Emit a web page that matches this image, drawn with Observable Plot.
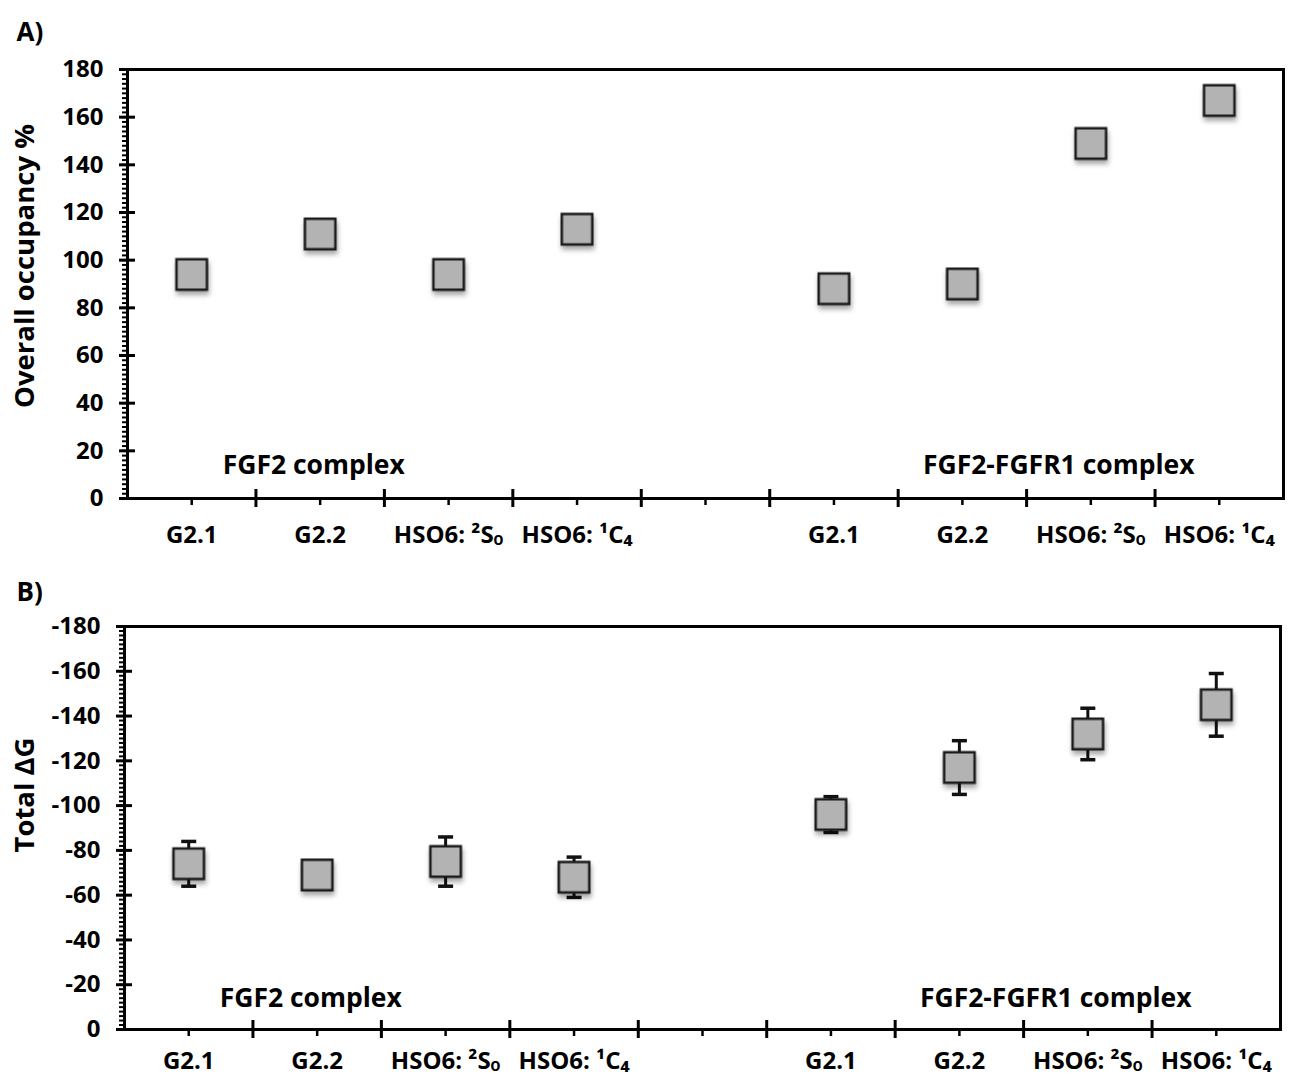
<!DOCTYPE html>
<html>
<head>
<meta charset="utf-8">
<script src="https://cdn.jsdelivr.net/npm/d3@7"></script>
<script src="https://cdn.jsdelivr.net/npm/@observablehq/plot@0.6"></script>
<style>
  html, body { margin: 0; padding: 0; background: #fff; }
  #chart svg { display: block; }
</style>
</head>
<body>
<div id="chart"></div>
<script>
// ---- data ----
const categories = ["G2.1", "G2.2", "HSO6: ²Sₒ", "HSO6: ¹C₄"];
const groups = ["FGF2 complex", "FGF2-FGFR1 complex"];

// Panel A: overall occupancy %
const occupancyFGF2 = [94, 111, 94, 113];
const occupancyFGFR1 = [88, 90, 149, 167];

// Panel B: total ΔG with error
const dGFGF2 = [-74, -69, -75, -68];
const dGErrFGF2 = [10, 0, 11, 9];
const dGFGFR1 = [-96, -117, -132, -145];
const dGErrFGFR1 = [8, 12, 11.5, 14];

const yTicksA = [0, 20, 40, 60, 80, 100, 120, 140, 160, 180];
const yTicksB = [0, -20, -40, -60, -80, -100, -120, -140, -160, -180];

// annotation positions (data units)
const annotX = [0.95, 6.75];
const annotYA = [14, 14];
const annotYB = [-14, -14];

// ---- build ----
const nSlots = categories.length * 2 + 1;
function rows(v1, v2, e1, e2) {
  const out = [];
  [v1, v2].forEach((vals, g) => {
    const errs = g === 0 ? e1 : e2;
    vals.forEach((v, i) => {
      const e = errs ? errs[i] : 0;
      out.push({slot: g * (categories.length + 1) + i, value: v, low: v + e, high: v - e, err: e, cat: categories[i], group: groups[g]});
    });
  });
  return out;
}
const slotLabel = s => {
  const i = s % (categories.length + 1);
  return i < categories.length ? categories[i] : "";
};
const centers = d3.range(0, nSlots);
const labelSlots = centers.filter(s => slotLabel(s) !== "");
const bounds = d3.range(0.5, nSlots - 1, 1);

const capSymbol = {draw(ctx) { ctx.moveTo(-7.5, 0); ctx.lineTo(7.5, 0); }};

function panel({data, domain, ticks, minorStep, ylabel, ylabelDy, letter, annotY, xPad, height, mt, mb, ml, mr}) {
  const [d0, d1] = domain;
  const minor = d3.range(Math.min(d0, d1), Math.max(d0, d1) + 0.001, minorStep);
  const errData = data.filter(d => d.err > 0);
  const annot = groups.map((g, i) => ({text: g, x: annotX[i], y: annotY[i]}));
  const svg = Plot.plot({
    width: 1290,
    height,
    marginTop: mt, marginBottom: mb, marginLeft: ml, marginRight: mr,
    style: {fontFamily: "'Open Sans', sans-serif", fontWeight: "bold", fontSize: "24px", color: "#000", background: "#fff"},
    x: {domain: [-0.5, nSlots - 0.5]},
    y: {domain},
    marks: [
      // y axis
      Plot.axisY({ticks, tickSize: 8, tickPadding: 16, tickFormat: d => String(d), fontSize: 24, strokeWidth: 3, label: null}),
      Plot.axisY({ticks, tickSize: -8, text: null, strokeWidth: 3, label: null}),
      Plot.axisY({ticks: minor, tickSize: 5, text: null, strokeWidth: 2, label: null}),
      // x axis
      Plot.axisX({ticks: labelSlots, tickSize: 0, tickPadding: xPad, tickFormat: slotLabel, fontSize: 24, label: null}),
      Plot.axisX({ticks: centers, tickSize: 7, text: null, strokeWidth: 2.5, label: null}),
      Plot.axisX({ticks: bounds, tickSize: 9, text: null, strokeWidth: 3, label: null}),
      Plot.axisX({ticks: bounds, tickSize: -9, text: null, strokeWidth: 3, label: null}),
      Plot.frame({stroke: "#000", strokeWidth: 3}),
      // annotations
      Plot.text(annot, {x: "x", y: "y", text: "text", fontSize: 26.5, fill: "#000"}),
      Plot.text([ylabel], {frameAnchor: "left", dx: -ml + 25, dy: ylabelDy, rotate: -90, fontSize: 27.5, fill: "#000", textAnchor: "middle"}),
      Plot.text([letter], {frameAnchor: "top-left", dx: -ml + 16, dy: -mt + 22, fontSize: 26, fill: "#000", textAnchor: "start"}),
      // error bars
      Plot.ruleX(errData, {x: "slot", y1: "low", y2: "high", stroke: "#111", strokeWidth: 3}),
      Plot.dot(errData, {x: "slot", y: "low", symbol: capSymbol, r: 5, stroke: "#111", strokeWidth: 3.5, fill: "none"}),
      Plot.dot(errData, {x: "slot", y: "high", symbol: capSymbol, r: 5, stroke: "#111", strokeWidth: 3.5, fill: "none"}),
      // squares
      Plot.dot(data, {x: "slot", y: "value", symbol: "square", r: 17.2, fill: "#b3b3b3", stroke: "#1a1a1a", strokeWidth: 2.5})
    ]
  });
  const dots = svg.querySelectorAll('g[aria-label="dot"]');
  if (dots.length) dots[dots.length - 1].style.filter = "drop-shadow(1px 4px 2.5px rgba(0,0,0,0.35))";
  return svg;
}

const chart = document.getElementById("chart");
chart.appendChild(panel({
  data: rows(occupancyFGF2, occupancyFGFR1),
  domain: [0, 180], ticks: yTicksA, minorStep: 2,
  ylabel: "Overall occupancy %", ylabelDy: -18, letter: "A)", annotY: annotYA, xPad: 27,
  height: 560, mt: 69, mb: 62, ml: 127, mr: 7
}));
chart.appendChild(panel({
  data: rows(dGFGF2, dGFGFR1, dGErrFGF2, dGErrFGFR1),
  domain: [0, -180], ticks: yTicksB, minorStep: 2,
  ylabel: "Total ΔG", ylabelDy: -33, letter: "B)", annotY: annotYB, xPad: 22,
  height: 518, mt: 66, mb: 49, ml: 124, mr: 10
}));
</script>
</body>
</html>
